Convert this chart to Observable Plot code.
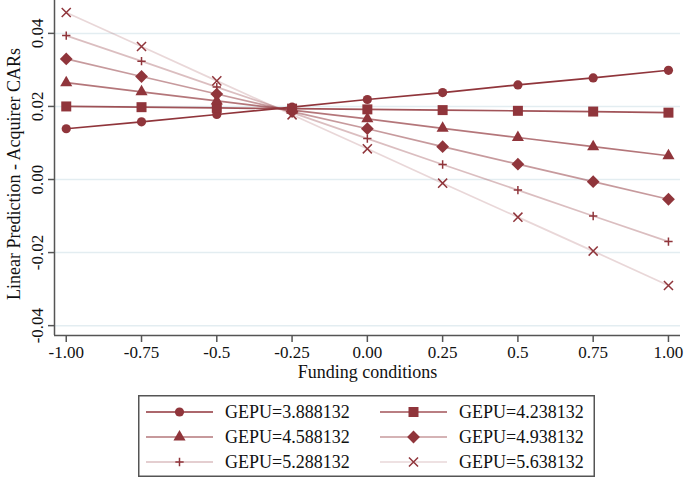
<!DOCTYPE html>
<html><head><meta charset="utf-8">
<script src="https://cdn.jsdelivr.net/npm/d3@7"></script>
<script src="https://cdn.jsdelivr.net/npm/@observablehq/plot@0.6"></script>
<style>
body{margin:0;background:#fff;font-family:"Liberation Serif",serif;}
#chart{position:relative;width:685px;height:480px;overflow:hidden;}
#legend{position:absolute;left:138px;top:395px;}
</style></head><body><div id="chart"></div>
<script>
// ---- data ----
const fundingConditions = [-1, -0.75, -0.5, -0.25, 0, 0.25, 0.5, 0.75, 1];
const xTickLabels = ["-1.00", "-0.75", "-0.5", "-0.25", "0.00", "0.25", "0.5", "0.75", "1.00"];
const yTicks = [-0.04, -0.02, 0, 0.02, 0.04];
const yTickLabels = ["-0.04", "-0.02", "0.00", "0.02", "0.04"];
const seriesNames = ["GEPU=3.888132", "GEPU=4.238132", "GEPU=4.588132", "GEPU=4.938132", "GEPU=5.288132", "GEPU=5.638132"];
const gepu1 = [0.0139, 0.0158, 0.0178, 0.0198, 0.0219, 0.0238, 0.0259, 0.0278, 0.0299];
const gepu2 = [0.0200, 0.0198, 0.0196, 0.0194, 0.0192, 0.0190, 0.0188, 0.0186, 0.0183];
const gepu3 = [0.0265, 0.0240, 0.0215, 0.0190, 0.0166, 0.0140, 0.0115, 0.0090, 0.0065];
const gepu4 = [0.0330, 0.0282, 0.0234, 0.0186, 0.0139, 0.0090, 0.0042, -0.0006, -0.0054];
const gepu5 = [0.0394, 0.0324, 0.0253, 0.0183, 0.0112, 0.0041, -0.0029, -0.0100, -0.0170];
const gepu6 = [0.0457, 0.0364, 0.0270, 0.0177, 0.0084, -0.0010, -0.0103, -0.0196, -0.0290];
const xTitle = "Funding conditions";
const yTitle = "Linear Prediction - Acquirer CARs";

// ---- styles ----
const seriesValues = [gepu1, gepu2, gepu3, gepu4, gepu5, gepu6];
const color = "#90353B";
const lineOpacity = [1, 0.85, 0.68, 0.5, 0.32, 0.2];
const symbols = ["circle", "square", "triangle", "diamond2", "plus", "times"];
const d3Symbols = [d3.symbolCircle, d3.symbolSquare, d3.symbolTriangle, d3.symbolDiamond2, d3.symbolPlus, d3.symbolTimes];
const radii = [4.6, 5.64, 4.5, 5.76, 2.8, 4.2];
const filled = [true, true, true, true, false, false];
const xDomain = [-1.039, 1.04];
const yDomain = [-0.0427, 0.049];
const FONT = "Liberation Serif";

const rows = [];
seriesValues.forEach((vals, s) => vals.forEach((v, i) => rows.push({x: fundingConditions[i], y: v, s})));

const marks = [
  Plot.ruleY(yTicks, {stroke: "#E3EDF1", strokeWidth: 1.5})
];
seriesValues.forEach((vals, s) => {
  const data = rows.filter(d => d.s === s);
  marks.push(Plot.line(data, {x: "x", y: "y", stroke: color, strokeOpacity: lineOpacity[s], strokeWidth: 1.7}));
});
seriesValues.forEach((vals, s) => {
  const data = rows.filter(d => d.s === s);
  marks.push(Plot.dot(data, filled[s]
    ? {x: "x", y: "y", symbol: () => symbols[s], r: radii[s], fill: color, stroke: "none"}
    : {x: "x", y: "y", symbol: () => symbols[s], r: radii[s], fill: "none", stroke: color, strokeWidth: 1.5}));
});
marks.push(
  Plot.ruleX([xDomain[0]], {stroke: "#555", strokeWidth: 1.5}),
  Plot.ruleY([yDomain[0]], {stroke: "#555", strokeWidth: 1.5}),
  Plot.axisX({ticks: fundingConditions, tickFormat: d => xTickLabels[fundingConditions.indexOf(d)], tickSize: 7, tickPadding: 3, fontSize: 17, stroke: "#555", strokeWidth: 1.5, fill: "#111", label: null}),
  Plot.axisY({ticks: yTicks, tickFormat: d => yTickLabels[yTicks.indexOf(d)], tickRotate: -90, tickSize: 6, tickPadding: 6, fontSize: 17, stroke: "#555", strokeWidth: 1.5, fill: "#111", label: null}),
  Plot.text([xTitle], {text: d => d, frameAnchor: "bottom", lineAnchor: "middle", textAnchor: "middle", dy: 37, fontSize: 18, fill: "#111"}),
  Plot.text([yTitle], {text: d => d, frameAnchor: "left", lineAnchor: "middle", textAnchor: "middle", rotate: -90, dx: -40, dy: 6, fontSize: 18, fill: "#111"})
);

const chart = Plot.plot({
  width: 685, height: 390,
  marginLeft: 54, marginRight: 5, marginTop: 0, marginBottom: 55,
  x: {domain: xDomain},
  y: {domain: yDomain},
  symbol: {type: "identity"},
  style: {fontFamily: FONT, background: "#fff", overflow: "visible"},
  marks
});
document.getElementById("chart").appendChild(chart);

// ---- legend ----
const lw = 457, lh = 82;
const legend = d3.create("svg").attr("id", "legend").attr("width", lw).attr("height", lh)
  .style("font-family", FONT);
legend.append("rect").attr("x", 0.75).attr("y", 0.75).attr("width", lw - 1.5).attr("height", lh - 1.5)
  .attr("fill", "#fff").attr("stroke", "#555").attr("stroke-width", 1.5);
const colX = [8, 242];
const rowY = [17, 42, 67];
seriesNames.forEach((name, s) => {
  const cx = colX[s % 2], cy = rowY[Math.floor(s / 2)];
  const g = legend.append("g").attr("transform", `translate(${cx},${cy})`);
  g.append("line").attr("x1", 0).attr("x2", 67).attr("y1", 0).attr("y2", 0)
    .attr("stroke", color).attr("stroke-opacity", lineOpacity[s]).attr("stroke-width", 1.7);
  const r = radii[s];
  g.append("path").attr("transform", "translate(33.5,0)")
    .attr("d", d3.symbol(d3Symbols[s], r * r * Math.PI)())
    .attr("fill", filled[s] ? color : "none")
    .attr("stroke", filled[s] ? "none" : color).attr("stroke-width", 1.5);
  g.append("text").attr("x", 79).attr("y", 0).attr("dy", "0.34em")
    .attr("font-size", 18).attr("fill", "#111").text(name);
});
document.getElementById("chart").appendChild(legend.node());
</script></body></html>
